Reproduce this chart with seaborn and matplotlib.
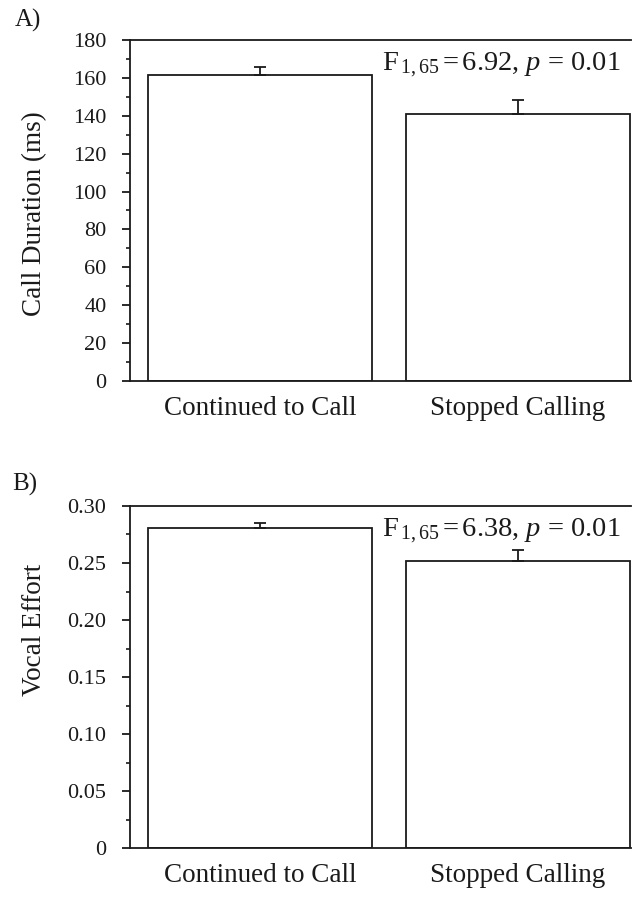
import numpy as np
import pandas as pd
import matplotlib
matplotlib.use("Agg")
import matplotlib.pyplot as plt
from matplotlib.ticker import MultipleLocator, FuncFormatter
import seaborn as sns

# ---- data ----
groups = ["Continued to Call", "Stopped Calling"]
call_duration = [161.5, 141.0]
call_duration_err = [4.0, 7.5]
vocal_effort = [0.2805, 0.252]
vocal_effort_err = [0.005, 0.0095]
stat_a = r"F$_{\,1,65}$$\,$=$\,$6.92, $p$ = 0.01"
stat_b = r"F$_{\,1,65}$$\,$=$\,$6.38, $p$ = 0.01"

sns.set_theme(style="ticks")
plt.rcParams["font.family"] = ["Liberation Serif", "DejaVu Serif"]
plt.rcParams["mathtext.fontset"] = "custom"
plt.rcParams["mathtext.rm"] = "Liberation Serif"
plt.rcParams["mathtext.it"] = "Liberation Serif:italic"

W, H = 632, 897
fig = plt.figure(figsize=(W / 100, H / 100), dpi=100)
fig.patch.set_facecolor("white")

def px_axes(left, top, right, bottom):
    return fig.add_axes([left / W, 1 - bottom / H, (right - left) / W, (bottom - top) / H])

axA = px_axes(130, 40, 631, 381)
axB = px_axes(130, 506, 631, 848)

def draw(ax, vals, errs, ylim, major, minor, ylabel, ylab_y, stat, fmt):
    df = pd.DataFrame({"group": groups, "value": vals})
    sns.barplot(data=df, x="group", y="value", ax=ax, width=0.87, color="white",
                edgecolor="#1a1a1a", linewidth=1.3, saturation=1)
    x = np.arange(len(groups))
    ax.errorbar(x, vals, yerr=[np.zeros(len(errs)), errs], fmt="none", ecolor="#1a1a1a",
                elinewidth=1.3, capsize=4.5, capthick=1.3)
    ax.set_xlim(-0.505, 1.44)
    ax.set_ylim(*ylim)
    ax.yaxis.set_major_locator(MultipleLocator(major))
    ax.yaxis.set_minor_locator(MultipleLocator(minor))
    ax.yaxis.set_major_formatter(FuncFormatter(fmt))
    for s in ["left", "bottom", "top"]:
        ax.spines[s].set_linewidth(1.3)
        ax.spines[s].set_color("#1a1a1a")
    ax.spines["right"].set_visible(False)
    ax.tick_params(axis="y", which="major", length=6, width=1.3, color="#1a1a1a",
                   labelsize=16, pad=11, labelcolor="#1a1a1a")
    ax.tick_params(axis="y", which="minor", length=3, width=1.2, color="#1a1a1a")
    ax.tick_params(axis="x", length=0, labelsize=19.5, pad=11, labelcolor="#1a1a1a")
    ax.set_xlabel("")
    ax.set_ylabel(ylabel, fontsize=19.5, color="#1a1a1a")
    ax.yaxis.set_label_coords(-0.166, ylab_y)
    ax.text(0.503, 0.925, stat, transform=ax.transAxes, fontsize=20.5, va="center",
            ha="left", color="#1a1a1a")
    ax.set_facecolor("white")

draw(axA, call_duration, call_duration_err, (0, 180), 20, 10, "Call Duration (ms)", 0.49,
     stat_a, lambda v, p: f"{v:.0f}")
draw(axB, vocal_effort, vocal_effort_err, (0, 0.30), 0.05, 0.025, "Vocal Effort", 0.637,
     stat_b, lambda v, p: "0" if abs(v) < 1e-9 else f"{v:.2f}")

fig.text(15 / W, 1 - 20 / H, "A)", fontsize=18, va="center", ha="left", color="#1a1a1a")
fig.text(12 / W, 1 - 484 / H, "B)", fontsize=18, va="center", ha="left", color="#1a1a1a")

fig.savefig("out.png", dpi=100, facecolor="white")
